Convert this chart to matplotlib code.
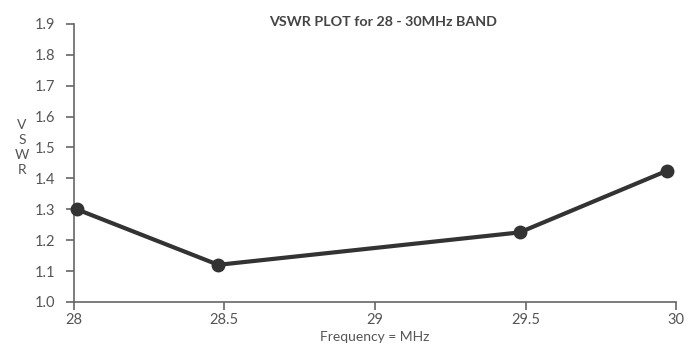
import matplotlib
matplotlib.use("Agg")
import matplotlib.pyplot as plt

# Data
freq = [28.01, 28.48, 29.48, 29.97]
vswr = [1.30, 1.12, 1.225, 1.425]
x_ticks = [28, 28.5, 29, 29.5, 30]
x_tick_labels = ["28", "28.5", "29", "29.5", "30"]
y_ticks = [1.0, 1.1, 1.2, 1.3, 1.4, 1.5, 1.6, 1.7, 1.8, 1.9]

plt.rcParams['font.family'] = ['Lato', 'DejaVu Sans']
grey = "#555555"

fig = plt.figure(figsize=(6.88, 3.47), dpi=100)
ax = fig.add_axes([0.107, 0.130, 0.876, 0.801])

ax.plot(freq, vswr, color="#333333", linewidth=3, marker="o", markersize=9,
        clip_on=False, zorder=3)

ax.set_xlim(28, 30)
ax.set_ylim(1.0, 1.9)
ax.set_xticks(x_ticks)
ax.set_xticklabels(x_tick_labels)
ax.set_yticks(y_ticks)
ax.set_yticklabels([f"{v:.1f}" for v in y_ticks])

for side in ["top", "right"]:
    ax.spines[side].set_visible(False)
for side in ["left", "bottom"]:
    ax.spines[side].set_color("#666666")
    ax.spines[side].set_linewidth(1.2)

ax.tick_params(direction="out", length=6, width=1.2, colors="#666666",
               labelcolor=grey, labelsize=10.5)
ax.tick_params(axis="y", pad=7)
ax.tick_params(axis="x", pad=2)

fig.text(0.557, 0.937, "VSWR PLOT for 28 - 30MHz BAND", fontsize=10.3,
         fontweight="bold", color="#444444", ha="center", va="center")
ax.set_xlabel("Frequency = MHz", fontsize=10, color=grey, labelpad=3)
fig.text(0.032, 0.574, "V\nS\nW\nR", fontsize=10, color=grey, ha="center",
         va="center", linespacing=1.3)

fig.savefig("out.png", dpi=100)
